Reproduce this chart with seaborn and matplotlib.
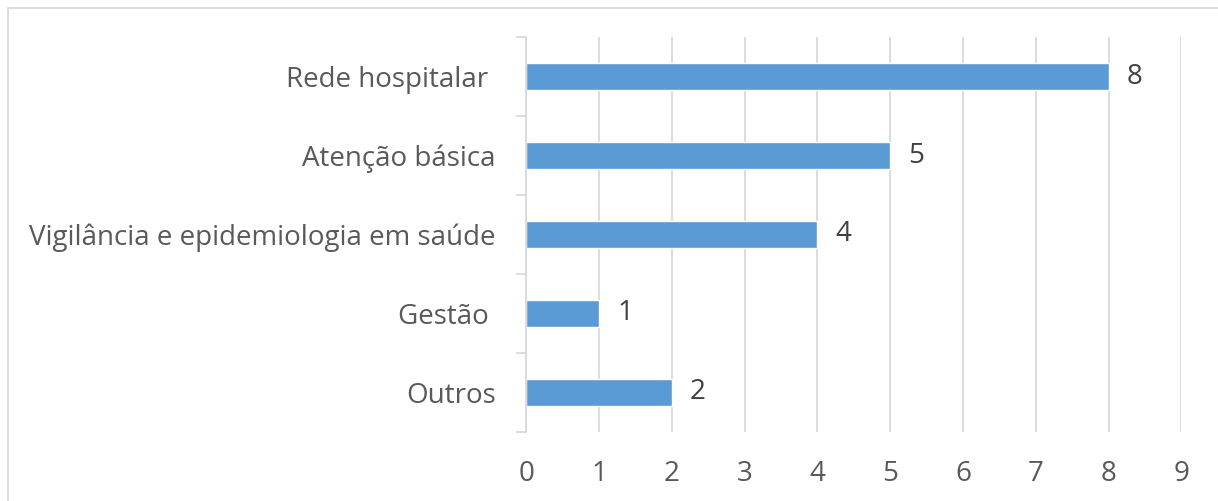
import seaborn as sns
import matplotlib.pyplot as plt
import matplotlib.patches as patches
import pandas as pd

# dados
categorias = ["Rede hospitalar ", "Atenção básica", "Vigilância e epidemiologia em saúde", "Gestão ", "Outros"]
valores = [8, 5, 4, 1, 2]
xticks = list(range(0, 10))

df = pd.DataFrame({"categoria": categorias, "valor": valores})

sns.set_style("white")
plt.rcParams['font.family'] = ['Open Sans', 'DejaVu Sans']

fig = plt.figure(figsize=(12.18, 5.01), dpi=100)
ax = fig.add_axes([0.432, 0.138, 0.538, 0.788])

sns.barplot(data=df, x="valor", y="categoria", order=categorias, orient="h",
            color="#5B9BD5", saturation=1, width=0.35, edgecolor="white", linewidth=1, ax=ax)

ax.set_xlim(0, 9)
ax.set_ylim(4.5, -0.5)
ax.set_xticks(xticks)
ax.xaxis.grid(True, color="#D9D9D9", linewidth=1.3)
ax.set_axisbelow(True)
ax.set_xlabel("")
ax.set_ylabel("")

for s in ["top", "right", "bottom"]:
    ax.spines[s].set_visible(False)
ax.spines["left"].set_color("#D9D9D9")
ax.spines["left"].set_linewidth(1.3)

ax.tick_params(axis="x", length=0, labelsize=20, labelcolor="#595959", pad=20)
ax.tick_params(axis="y", which="major", left=False, length=0, labelsize=20, labelcolor="#595959", pad=22)
ax.set_yticks([i - 0.5 for i in range(len(categorias) + 1)], minor=True)
ax.tick_params(axis="y", which="minor", left=True, length=7, color="#D9D9D9", width=1.3)

for c in ax.containers:
    ax.bar_label(c, labels=[str(v) for v in valores], padding=13, fontsize=20, color="#404040")

fig.add_artist(patches.Rectangle((8 / 1218, -0.05), 1.1, 1 - 8 / 501 + 0.05,
                                 transform=fig.transFigure, fill=False,
                                 edgecolor="#D9D9D9", linewidth=1.3))

fig.savefig("out.png", dpi=100)
